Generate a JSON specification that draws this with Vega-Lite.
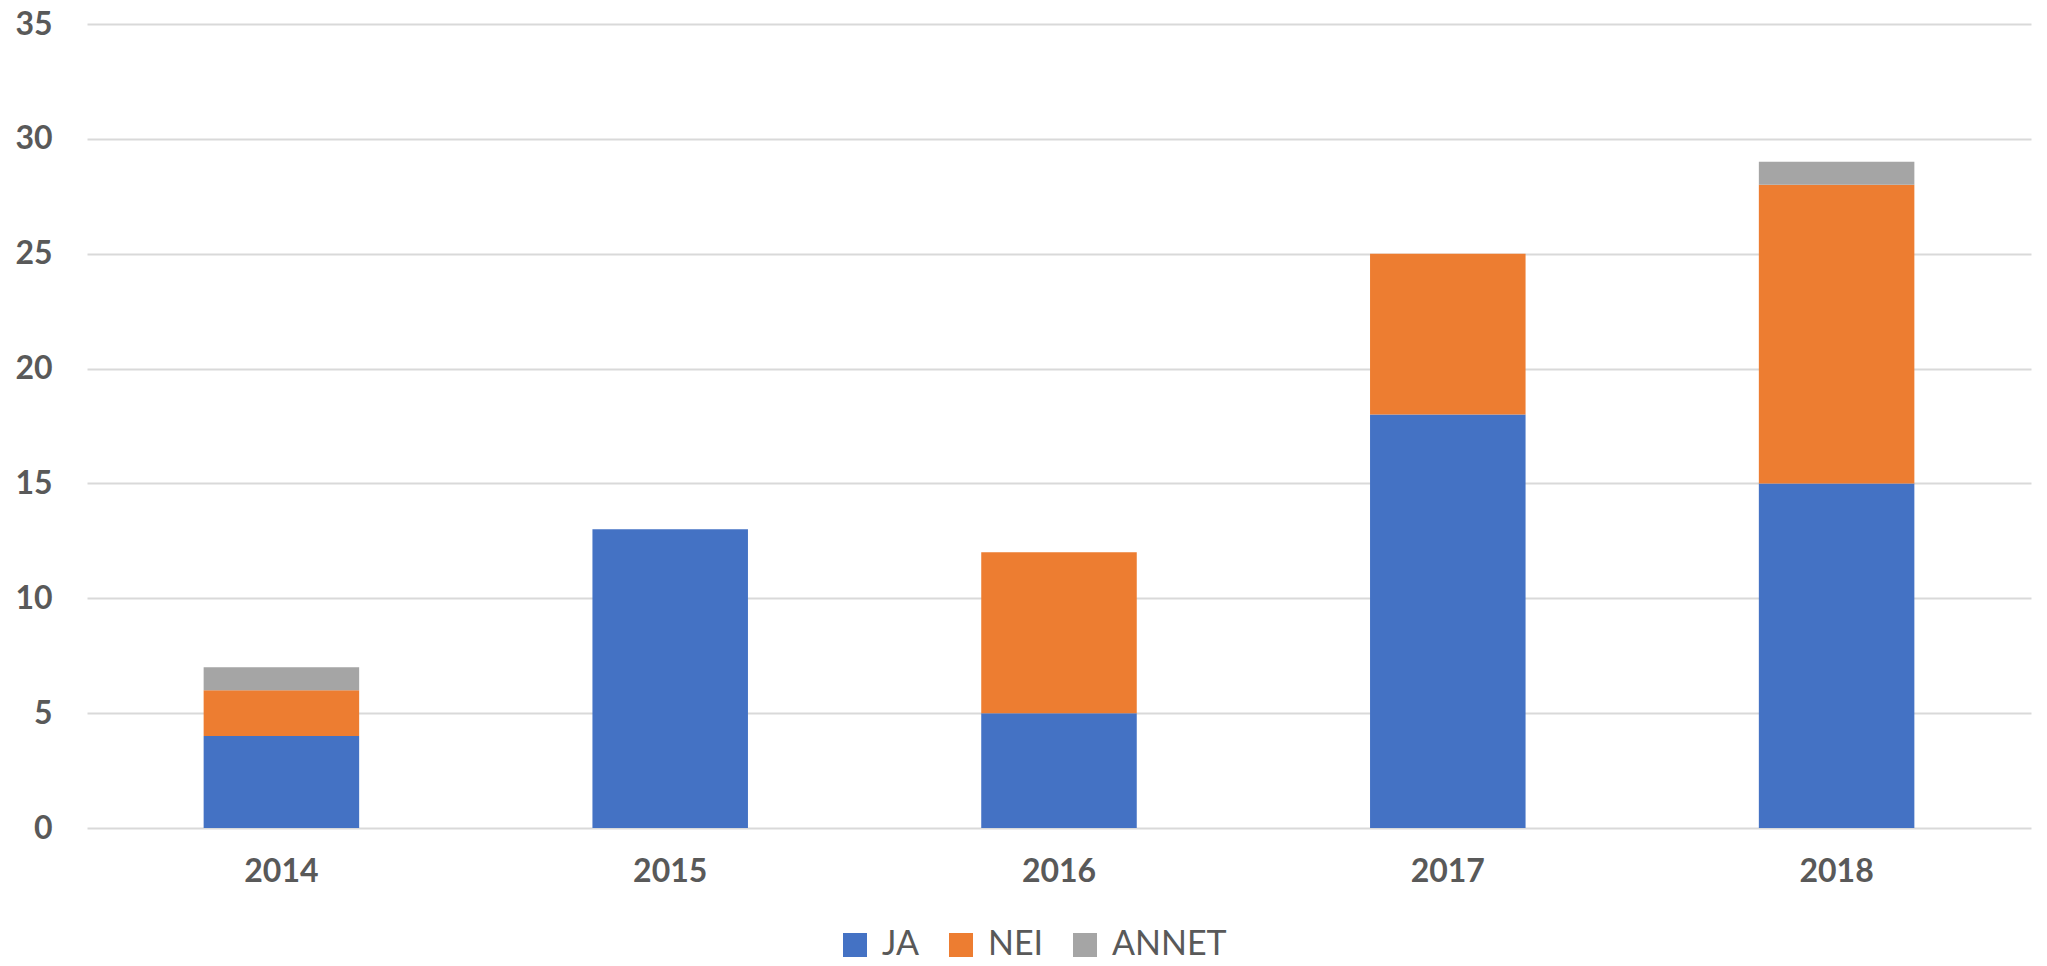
{
  "$schema": "https://vega.github.io/schema/vega-lite/v6.json",
  "width": 1944,
  "height": 804,
  "autosize": {"type": "none"},
  "padding": {"left": 87, "top": 24, "right": 16, "bottom": 138},
  "background": "white",
  "config": {
    "view": {"stroke": null},
    "font": "Lato",
    "axis": {"domain": false, "ticks": false, "tickSize": 0, "labelColor": "#595959", "labelFont": "Lato", "labelFontWeight": "bold", "labelFontSize": 32, "title": null}
  },
  "data": {
    "values": [
      {"year": "2014", "cat": "JA", "k": 1, "n": 4},
      {"year": "2014", "cat": "NEI", "k": 2, "n": 2},
      {"year": "2014", "cat": "ANNET", "k": 3, "n": 1},
      {"year": "2015", "cat": "JA", "k": 1, "n": 13},
      {"year": "2015", "cat": "NEI", "k": 2, "n": 0},
      {"year": "2015", "cat": "ANNET", "k": 3, "n": 0},
      {"year": "2016", "cat": "JA", "k": 1, "n": 5},
      {"year": "2016", "cat": "NEI", "k": 2, "n": 7},
      {"year": "2016", "cat": "ANNET", "k": 3, "n": 0},
      {"year": "2017", "cat": "JA", "k": 1, "n": 18},
      {"year": "2017", "cat": "NEI", "k": 2, "n": 7},
      {"year": "2017", "cat": "ANNET", "k": 3, "n": 0},
      {"year": "2018", "cat": "JA", "k": 1, "n": 15},
      {"year": "2018", "cat": "NEI", "k": 2, "n": 13},
      {"year": "2018", "cat": "ANNET", "k": 3, "n": 1}
    ]
  },
  "mark": {"type": "bar"},
  "encoding": {
    "x": {
      "field": "year", "type": "nominal",
      "scale": {"paddingInner": 0.6, "paddingOuter": 0.3},
      "axis": {"labelAngle": 0, "labelPadding": 28, "grid": false}
    },
    "y": {
      "field": "n", "type": "quantitative", "stack": "zero",
      "scale": {"domain": [0, 35], "nice": false},
      "axis": {"values": [0, 5, 10, 15, 20, 25, 30, 35], "labelPadding": 35, "grid": true, "gridColor": "#d9d9d9", "gridWidth": 2}
    },
    "color": {
      "field": "cat", "type": "nominal",
      "scale": {"domain": ["JA", "NEI", "ANNET"], "range": ["#4472C4", "#ED7D31", "#A5A5A5"]},
      "legend": {
        "title": null, "orient": "none", "direction": "horizontal",
        "legendX": 751, "legendY": 904,
        "symbolType": "square", "symbolSize": 576, "symbolStrokeWidth": 0, "symbolOpacity": 1,
        "labelFont": "Lato", "labelFontSize": 34, "labelColor": "#595959", "labelOffset": 10,
        "columnPadding": 24
      }
    },
    "order": {"field": "k", "type": "quantitative", "sort": "ascending"}
  }
}
